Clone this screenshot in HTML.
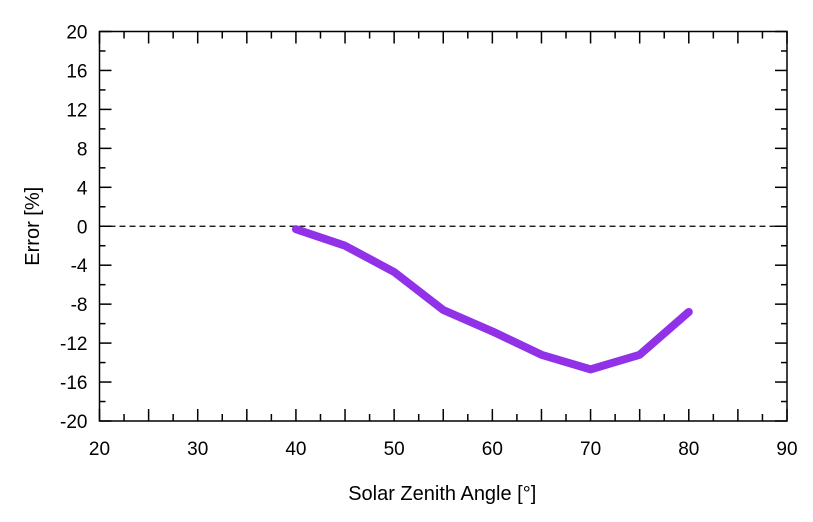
<!DOCTYPE html>
<html><head><meta charset="utf-8"><style>
body{margin:0;background:#fff;}
svg{display:block;font-family:"Liberation Sans",sans-serif;}
</style></head><body>
<svg id="chart" width="813" height="522"></svg>
<script>
const xTicks=[20,30,40,50,60,70,80,90];
const yTicks=[-20,-16,-12,-8,-4,0,4,8,12,16,20];
const angles=[40,45,50,55,60,65,70,75,80];
const errors=[-0.3,-2,-4.7,-8.6,-10.8,-13.2,-14.7,-13.2,-8.8];
const L=99.5,R=787,T=31.5,B=421;
const sx=v=>L+(v-20)/70*(R-L);
const sy=v=>B-(v+20)/40*(B-T);
const svg=document.getElementById('chart');
const NS='http://www.w3.org/2000/svg';
function mk(t,a,p){const e=document.createElementNS(NS,t);for(const k in a)e.setAttribute(k,a[k]);(p||svg).appendChild(e);return e;}
for(let v=20;v<=90;v+=2.5){const major=(v%5===0);const len=major?12:7;const x=sx(v);
 const t1=mk('line',{x1:x,x2:x,y1:B,y2:B-len,stroke:'#000','stroke-width':1.5});
 
 const t2=mk('line',{x1:x,x2:x,y1:T,y2:T+len,stroke:'#000','stroke-width':1.5});
 }
for(let v=-20;v<=20;v+=2){const major=(v%4===0);const len=major?12:6;const y=sy(v);
 const t1=mk('line',{x1:L,x2:L+len,y1:y,y2:y,stroke:'#000','stroke-width':1.5});
 
 const t2=mk('line',{x1:R,x2:R-len,y1:y,y2:y,stroke:'#000','stroke-width':1.5});
 }
xTicks.forEach(v=>{const t=mk('text',{x:sx(v),y:B+34,'text-anchor':'middle','font-size':19});t.textContent=v;
 });
yTicks.forEach(v=>{const t=mk('text',{x:L-12,y:sy(v)+7,'text-anchor':'end','font-size':19});t.textContent=v;
 });
const z=mk('line',{x1:L,x2:R,y1:sy(0),y2:sy(0),stroke:'#000','stroke-width':1.3,'stroke-dasharray':'6,4'});

const fr=mk('rect',{x:L,y:T,width:R-L,height:B-T,fill:'none',stroke:'#000','stroke-width':1.5});

const pts=angles.map((a,i)=>sx(a)+','+sy(errors[i])).join(' ');
const ln=mk('polyline',{points:pts,fill:'none',stroke:'#9232e8','stroke-width':8,'stroke-linejoin':'round','stroke-linecap':'round'});

const xt=mk('text',{x:(L+R)/2-1,y:500,'text-anchor':'middle','font-size':20});xt.textContent='Solar Zenith Angle [°]';

const yt=mk('text',{x:0,y:0,'text-anchor':'middle','font-size':20,transform:`translate(39,${(T+B)/2}) rotate(-90)`});yt.textContent='Error [%]';

</script>
</body></html>
